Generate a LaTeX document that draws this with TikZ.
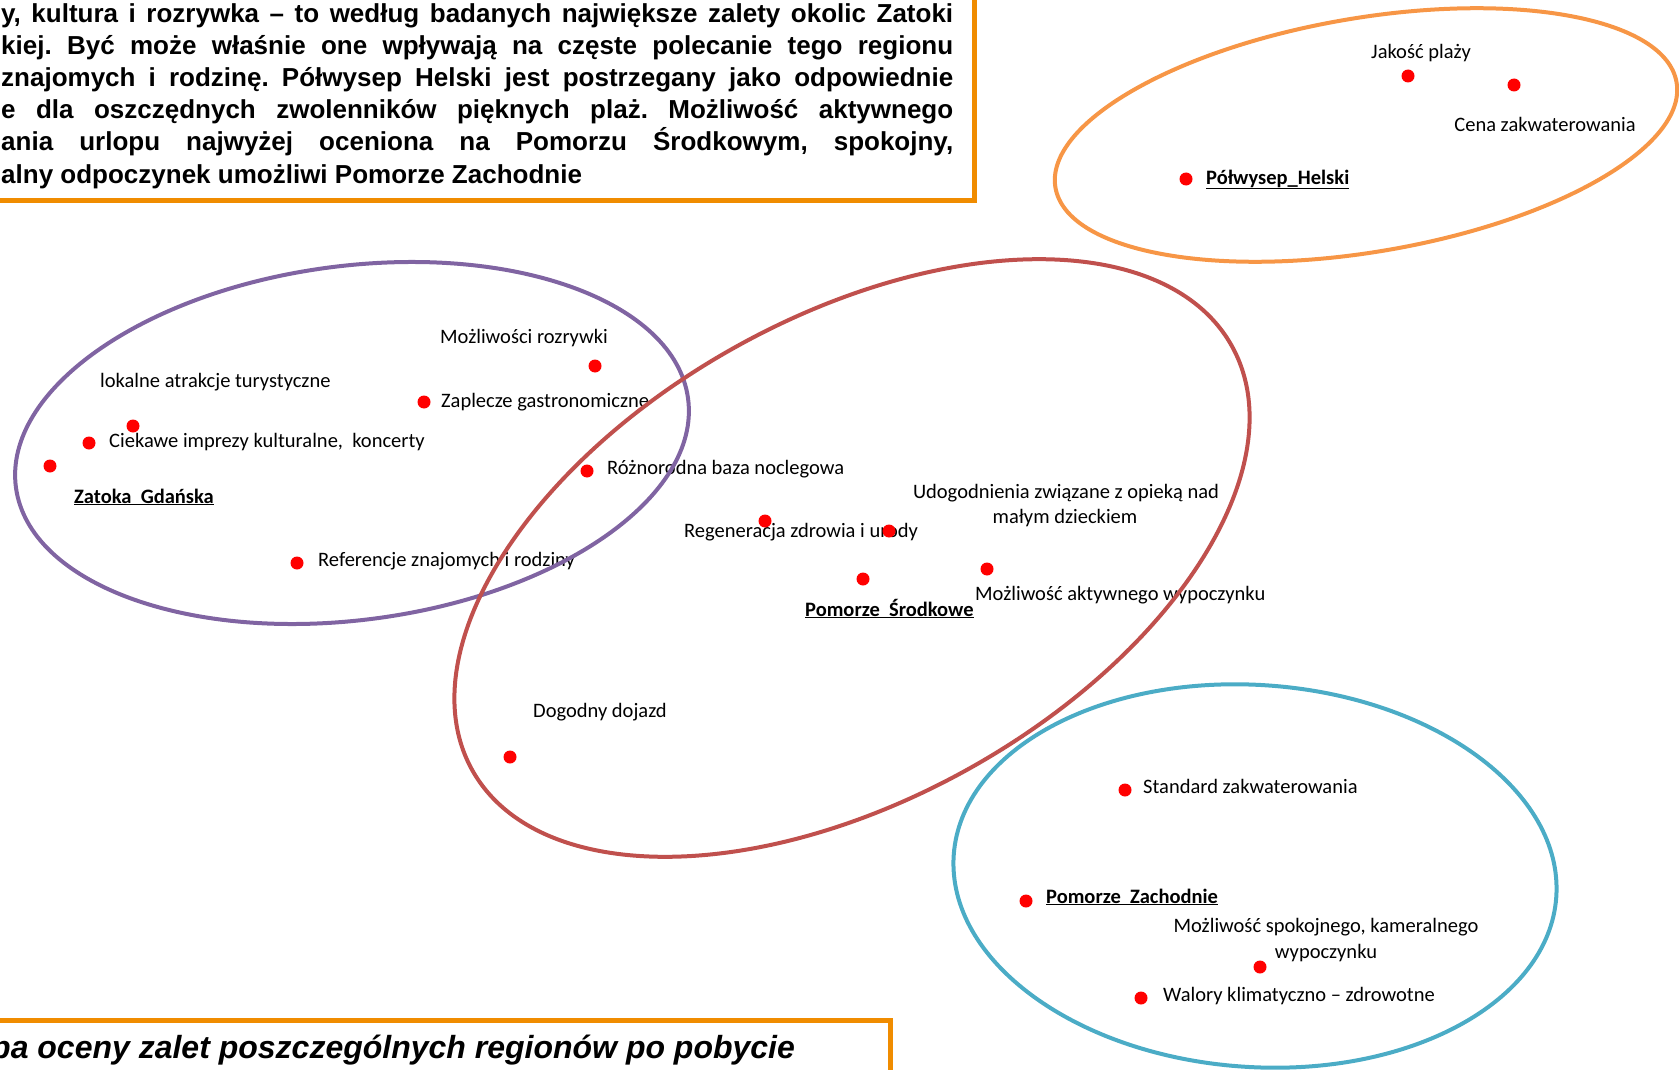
\documentclass[tikz,border=0pt]{standalone}
\usepackage{fontspec}
\setmainfont{Carlito}
\newfontfamily\arialfont{Liberation Sans}
\definecolor{boxorange}{RGB}{240,140,0}
\definecolor{ellorange}{RGB}{247,150,70}
\definecolor{ellpurple}{RGB}{128,100,162}
\definecolor{ellred}{RGB}{192,80,77}
\definecolor{ellblue}{RGB}{75,172,198}
\definecolor{dotred}{RGB}{255,0,0}
\frenchspacing
\begin{document}
\begin{tikzpicture}[x=1pt,y=-1pt,
  dot/.style={circle,fill=dotred,inner sep=0pt,minimum size=13pt},
  lbl/.style={inner sep=0pt,anchor=west,font=\fontsize{20.5}{24}\selectfont,text height=13pt,text depth=5pt},
  lblb/.style={lbl,font=\bfseries\fontsize{20.5}{24}\selectfont},
  boxline/.style={draw=boxorange,line width=5pt},
  ellline/.style={line width=4pt},
  boxtext/.style={anchor=base west,inner sep=0pt,font=\arialfont\bfseries\fontsize{26}{32}\selectfont},
  captext/.style={anchor=base west,inner sep=0pt,font=\arialfont\bfseries\itshape\fontsize{32}{36}\selectfont}
]
\useasboundingbox (0,0) rectangle (1679,1070);
\clip (0,0) rectangle (1679,1070);

% top text box
\coordinate (tb-l) at (0,200);
\coordinate (tb-t) at (974,0);
\draw[boxline] (tb-l) -| (tb-t);
\node[boxtext] (t1) at (1,23)  {\makebox[952pt][s]{y, kultura i rozrywka – to według badanych największe zalety okolic Zatoki}};
\node[boxtext] (t2) at (1,55)  {\makebox[952pt][s]{kiej. Być może właśnie one wpływają na częste polecanie tego regionu}};
\node[boxtext] (t3) at (1,87)  {\makebox[952pt][s]{znajomych i rodzinę. Półwysep Helski jest postrzegany jako odpowiednie}};
\node[boxtext] (t4) at (1,119) {\makebox[952pt][s]{e dla oszczędnych zwolenników pięknych plaż. Możliwość aktywnego}};
\node[boxtext] (t5) at (1,151) {\makebox[952pt][s]{ania urlopu najwyżej oceniona na Pomorzu Środkowym, spokojny,}};
\node[boxtext] (t6) at (1,183) {alny odpoczynek umożliwi Pomorze Zachodnie};

% bottom caption box
\coordinate (bb-l) at (0,1020);
\coordinate (bb-b) at (890,1070);
\draw[boxline] (bb-l) -| (bb-b);
\node[captext] (cap) at (-9,1058) {pa oceny zalet poszczególnych regionów po pobycie};

% labels
\node[lbl,anchor=center] (l-jak) at (1421,55) {Jakość plaży};
\node[lbl,anchor=center] (l-cena) at (1545,128) {Cena zakwaterowania};
\node[lblb] (l-hel) at (1206,180) {\underline{Półwysep\_Helski}};
\node[lbl,anchor=center] (l-rozr) at (524,339) {Możliwości rozrywki};
\node[lbl] (l-lok) at (100,383) {lokalne atrakcje turystyczne};
\node[lbl] (l-zap) at (441,403) {Zaplecze gastronomiczne};
\node[lbl] (l-cie) at (109,443) {Ciekawe imprezy kulturalne,\ \ koncerty};
\node[lblb] (l-zat) at (74,499) {\underline{Zatoka\ \ Gdańska}};
\node[lbl] (l-roz) at (607,470) {Różnorodna baza noclegowa};
\node[lbl] (l-ref) at (318,562) {Referencje znajomych i rodziny};
\node[lbl,anchor=center] (l-udo1) at (1066,494) {Udogodnienia związane z opieką nad};
\node[lbl,anchor=center] (l-udo2) at (1065,519) {małym dzieckiem};
\node[lbl] (l-reg) at (684,533) {Regeneracja zdrowia i urody};
\node[lblb] (l-sro) at (805,612) {\underline{Pomorze\ \ Środkowe}};
\node[lbl] (l-akt) at (975,596) {Możliwość aktywnego wypoczynku};
\node[lbl] (l-doj) at (533,713) {Dogodny dojazd};
\node[lbl] (l-std) at (1143,789) {Standard zakwaterowania};
\node[lblb] (l-zach) at (1046,899) {\underline{Pomorze\ \ Zachodnie}};
\node[lbl,anchor=center] (l-spo1) at (1326,928) {Możliwość spokojnego, kameralnego};
\node[lbl,anchor=center] (l-spo2) at (1326,954) {wypoczynku};
\node[lbl] (l-wal) at (1163,997) {Walory klimatyczno – zdrowotne};

% ellipses
\draw[ellline,ellorange,rotate around={9.6:(1366,135)}] (1366,135) ellipse [x radius=315, y radius=117];
\draw[ellline,ellpurple,rotate around={7.5:(352,443)}] (352,443) ellipse [x radius=339, y radius=177];
\draw[ellline,ellred,rotate around={29.2:(852,558)}] (852,558) ellipse [x radius=435, y radius=241];
\draw[ellline,ellblue,rotate around={-4:(1255,876)}] (1255,876) ellipse [x radius=302, y radius=191];

% dots
\node[dot] (d-jak) at (1408,76) {};
\node[dot] (d-cena) at (1514,85) {};
\node[dot] (d-hel) at (1186,179) {};
\node[dot] (d-rozr) at (595,366) {};
\node[dot] (d-lok) at (133,426) {};
\node[dot] (d-zap) at (424,402) {};
\node[dot] (d-cie) at (89,443) {};
\node[dot] (d-zat) at (50,466) {};
\node[dot] (d-roz) at (587,471) {};
\node[dot] (d-ref) at (297,563) {};
\node[dot] (d-reg) at (765,521) {};
\node[dot] (d-udo) at (889,531) {};
\node[dot] (d-sro) at (863,579) {};
\node[dot] (d-akt) at (987,569) {};
\node[dot] (d-doj) at (510,757) {};
\node[dot] (d-std) at (1125,790) {};
\node[dot] (d-zach) at (1026,901) {};
\node[dot] (d-spo) at (1260,967) {};
\node[dot] (d-wal) at (1141,998) {};
\end{tikzpicture}
\end{document}
